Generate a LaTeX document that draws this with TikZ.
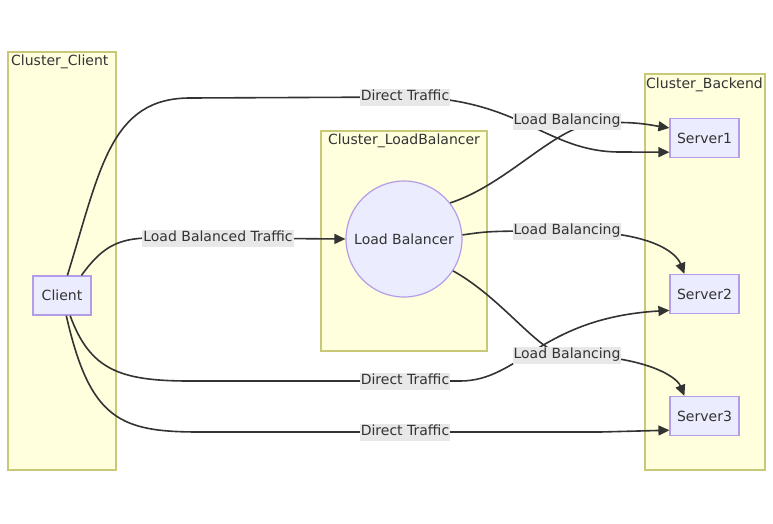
\documentclass[tikz,border=0pt]{standalone}
\usepackage{fontspec}
\setmainfont{DejaVu Sans}
\usetikzlibrary{arrows.meta}
\definecolor{clfill}{HTML}{FFFFDE}
\definecolor{cldraw}{HTML}{C8C878}
\definecolor{ndfill}{HTML}{ECECFF}
\definecolor{nddraw}{HTML}{B39DE8}
\definecolor{edgecol}{HTML}{333333}
\definecolor{lblfill}{HTML}{E8E8E8}
\tikzset{
  cluster/.style={draw=cldraw,fill=clfill,line width=1.2pt},
  clustertext/.style={text=edgecol,font=\fontsize{14}{16}\selectfont,inner sep=1pt},
  box/.style={draw=nddraw,fill=ndfill,line width=1.2pt,text=edgecol,
    font=\fontsize{14}{16}\selectfont,minimum height=39pt},
  edge/.style={draw=edgecol,line width=1.6pt,-{Triangle[length=11pt,width=10pt]}},
  elabel/.style={fill=lblfill,text=edgecol,font=\fontsize{14}{16}\selectfont,
    inner sep=1pt,text height=11pt,text depth=4pt}
}
\begin{document}
\begin{tikzpicture}[x=1pt,y=-1pt]
		\useasboundingbox (0,0) rectangle (773,523);
		%Clusters
		\draw[cluster] (8,52) rectangle (116,470);
		\node[clustertext,anchor=west] (cclient) at (10,62) {Cluster\_Client};
		\draw[cluster] (321,131) rectangle (487,351);
		\node[clustertext] (clb) at (404,141) {Cluster\_LoadBalancer};
		\draw[cluster] (645,74) rectangle (765,470);
		\node[clustertext,anchor=west] (cbackend) at (645,85) {Cluster\_Backend};
		%Nodes
		\node[box,minimum width=58pt] (client) at (62,295.5) {Client};
		\node[box,circle,minimum size=116pt] (lb) at (404,239) {Load Balancer};
		\node[box,minimum width=69pt] (server1) at (704.5,138) {Server1};
		\node[box,minimum width=69pt] (server2) at (704.5,294) {Server2};
		\node[box,minimum width=69pt] (server3) at (704.5,416) {Server3};
		%Label spots
		\coordinate (dtraf1) at (405,97);
		\coordinate (lbtraf) at (218,238);
		\coordinate (lbal1) at (567,121);
		\coordinate (lbal2) at (567,231);
		\coordinate (lbal3) at (567,355);
		\coordinate (dtraf2) at (405,381);
		\coordinate (dtraf3) at (405,432);
		%Edges
		\draw[edge] (client.75) .. controls (100,170) and (110,98) .. (190,98) -- (dtraf1)
		  .. controls (520,97) and (545,152) .. (620,152) -- (server1.202);
		\draw[edge] (client.46) .. controls (100,250) and (115,238) .. (150,238) -- (lbtraf) -- (lb.west);
		\draw[edge] (lb.38) .. controls (505,185) and (550,132) .. (590,124)
		  .. controls (630,120) and (650,125) .. (server1.164);
		\draw[edge] (lb.4) .. controls (490,231) .. (lbal2)
		  .. controls (650,231) and (676,252) .. (server2.135);
		\draw[edge] (lb.-33) .. controls (505,300) and (540,355) .. (lbal3)
		  .. controls (640,355) and (676,375) .. (server3.135);
		\draw[edge] (client.-68) .. controls (90,370) and (120,381) .. (190,381) -- (dtraf2)
		  -- (460,381) .. controls (520,381) and (540,318) .. (server2.205);
		\draw[edge] (client.-78) .. controls (90,420) and (120,432) .. (200,432) -- (dtraf3)
		  -- (600,432) -- (server3.202);
		%Edge labels
		\node[elabel] at (dtraf1) {Direct Traffic};
		\node[elabel] at (lbtraf) {Load Balanced Traffic};
		\node[elabel] at (lbal1) {Load Balancing};
		\node[elabel] at (lbal2) {Load Balancing};
		\node[elabel] at (lbal3) {Load Balancing};
		\node[elabel] at (dtraf2) {Direct Traffic};
		\node[elabel] at (dtraf3) {Direct Traffic};
\end{tikzpicture}
\end{document}
